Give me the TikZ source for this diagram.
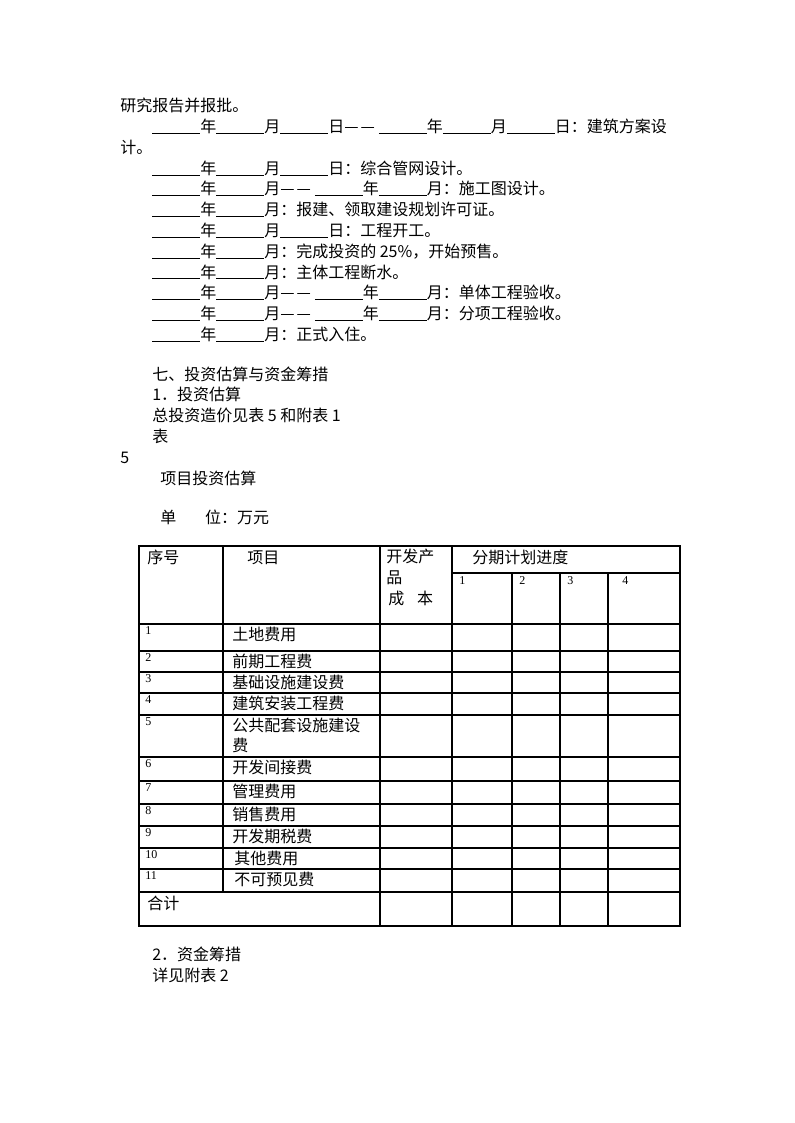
\documentclass[tikz,border=0pt]{standalone}
\usepackage{fontspec}
\setmainfont{Noto Sans CJK SC}
\newfontfamily\cjk{Noto Sans CJK SC}
\newfontfamily\numfont{Liberation Serif}
\usetikzlibrary{positioning}

% blank for a date to be filled in
\newcommand{\dateblank}{\rule[-1pt]{3em}{0.7pt}}
% the double dash between two dates
\newcommand{\todash}{—\kern1.5pt—\kern3pt}

\tikzset{
  bodytext/.style={anchor=base west, inner sep=0pt, font=\cjk\fontsize{12}{14}\selectfont},
  cellnum/.style={anchor=base west, inner sep=0pt, font=\numfont\fontsize{9}{10}\selectfont},
  tablerule/.style={line width=0.8pt, line cap=rect}
}

\begin{document}
\begin{tikzpicture}[x=0.75pt, y=-0.75pt]
\useasboundingbox[fill=white] (0,0) rectangle (794,1123);

% Schedule
\node[bodytext] (l1) at (120,112) {研究报告并报批。};
\node[bodytext] (l2) at (152,132.75) {\dateblank 年\dateblank 月\dateblank 日\todash\dateblank 年\dateblank 月\dateblank 日：建筑方案设};
\node[bodytext] (l3) at (120,153.5) {计。};
\node[bodytext] (l4) at (152,174.25) {\dateblank 年\dateblank 月\dateblank 日：综合管网设计。};
\node[bodytext] (l5) at (152,195) {\dateblank 年\dateblank 月\todash\dateblank 年\dateblank 月：施工图设计。};
\node[bodytext] (l6) at (152,215.75) {\dateblank 年\dateblank 月：报建、领取建设规划许可证。};
\node[bodytext] (l7) at (152,236.5) {\dateblank 年\dateblank 月\dateblank 日：工程开工。};
\node[bodytext] (l8) at (152,257.25) {\dateblank 年\dateblank 月：完成投资的 25\%，开始预售。};
\node[bodytext] (l9) at (152,278) {\dateblank 年\dateblank 月：主体工程断水。};
\node[bodytext] (l10) at (152,298.75) {\dateblank 年\dateblank 月\todash\dateblank 年\dateblank 月：单体工程验收。};
\node[bodytext] (l11) at (152,319.5) {\dateblank 年\dateblank 月\todash\dateblank 年\dateblank 月：分项工程验收。};
\node[bodytext] (l12) at (152,340.25) {\dateblank 年\dateblank 月：正式入住。};

% Section 7
\node[bodytext] (sec) at (152,380) {七、投资估算与资金筹措};
\node[bodytext] (sub1) at (152,400.5) {1．投资估算};
\node[bodytext] (ref1) at (152,421) {总投资造价见表 5 和附表 1};
\node[bodytext] (tab) at (152,442) {表};
\node[bodytext] (tabno) at (120,463) {5};
\node[bodytext] (title) at (160,484) {项目投资估算};
\node[bodytext] (unit) at (160,523) {单\hspace{1.8em}位：万元};

% Table frame
\draw[tablerule] (139,546) rectangle (680,926);
\foreach \y in {624,651,672,693,715,757,781,804,826,848,869,892}
  \draw[tablerule] (139,\y) -- (680,\y);
\draw[tablerule] (452,573) -- (680,573);
\draw[tablerule] (223,546) -- (223,892);
\foreach \x in {380,452}
  \draw[tablerule] (\x,546) -- (\x,926);
\foreach \x in {512,560,608}
  \draw[tablerule] (\x,573) -- (\x,926);

% Table head
\node[bodytext] (hno) at (147,563) {序号};
\node[bodytext] (hitem) at (247,563) {项目};
\node[bodytext] (hcost) at (386,562) {开发产};
\node[bodytext] (hcost2) at (386,583) {品};
\node[bodytext] (hcost3) at (388,604) {成\hspace{0.8em}本};
\node[bodytext] (hplan) at (472,563) {分期计划进度};
\foreach \n/\x in {1/459,2/519,3/567,4/622}
  \node[cellnum] (stage\n) at (\x,584.5) {\n};

% Table rows
\foreach \n/\top/\dx/\item in {1/624/232/土地费用, 2/651/232/前期工程费, 3/672/232/基础设施建设费,
    4/693/232/建筑安装工程费, 6/757/232/开发间接费, 7/781/232/管理费用, 8/804/232/销售费用,
    9/826/232/开发期税费, 10/848/234/其他费用, 11/869/234/不可预见费} {
  \node[cellnum] (num\n) at (145,\top+10) {\n};
  \node[bodytext] (item\n) at (\dx,\top+16.5) {\item};
}
\node[cellnum] (num5) at (145,725) {5};
\node[bodytext] (item5) at (232,731.5) {公共配套设施建设};
\node[bodytext] (item5b) at (232,751.5) {费};
\node[bodytext] (total) at (147,909) {合计};

% Fund raising
\node[bodytext] (sub2) at (152,960.5) {2．资金筹措};
\node[bodytext] (ref2) at (152,981) {详见附表 2};
\end{tikzpicture}
\end{document}
